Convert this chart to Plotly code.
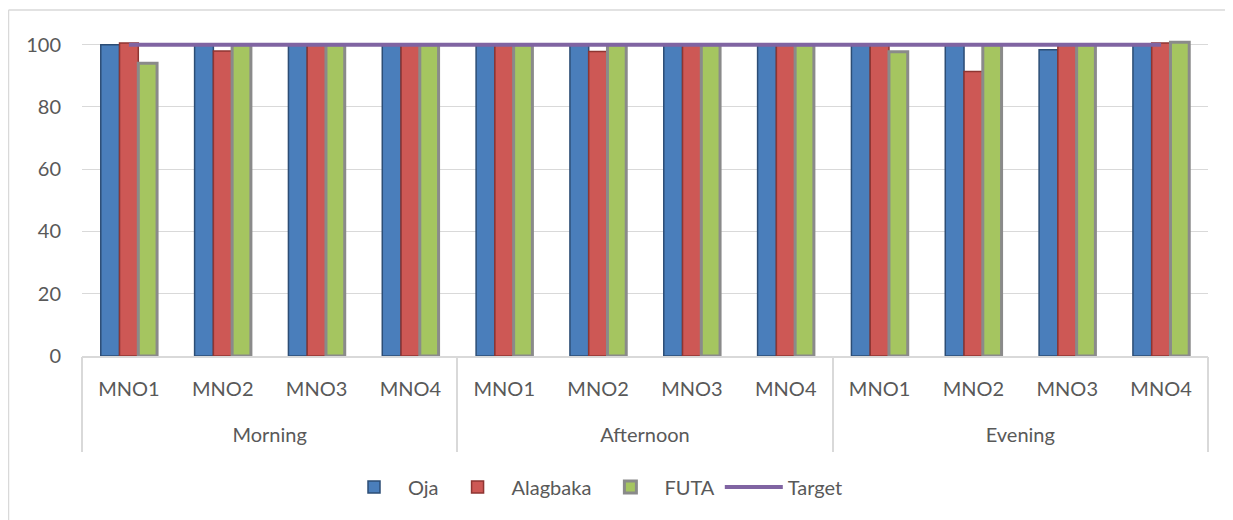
import plotly.graph_objects as go

groups = ["Morning"] * 4 + ["Afternoon"] * 4 + ["Evening"] * 4
mnos = ["MNO1", "MNO2", "MNO3", "MNO4"] * 3
group_names = ["Morning", "Afternoon", "Evening"]
oja = [100, 100, 100, 100, 100, 100, 100, 100, 100, 100, 98.4, 100]
alagbaka = [100.5, 98, 100, 100, 100, 97.8, 100, 100, 100, 91.4, 100, 100.5]
futa = [94, 100, 100, 100, 100, 100, 100, 100, 97.7, 100, 100, 100.8]
target = [100] * 12
y_ticks = [0, 20, 40, 60, 80, 100]

x = [f"{g}|{m}" for g, m in zip(groups, mnos)]
FONT = "Lato"
TXT = "#595959"
GRID = "#D9D9D9"
W, H = 1225, 512
L, R, T, B = 74, 25, 32, 164
PW, PH = W - L - R, H - T - B

fig = go.Figure()
fig.add_trace(go.Bar(name="Oja", x=x, y=oja,
                     marker=dict(color="#4A7EBB", line=dict(color="#2C4D75", width=1.5))))
fig.add_trace(go.Bar(name="Alagbaka", x=x, y=alagbaka,
                     marker=dict(color="#CD5855", line=dict(color="#8E3532", width=1.5))))
fig.add_trace(go.Bar(name="FUTA", x=x, y=futa,
                     marker=dict(color="#A5C560", line=dict(color="#8A8A8A", width=3))))
fig.add_trace(go.Scatter(name="Target", x=x, y=target, mode="lines",
                         line=dict(color="#8064A2", width=4)))
# invisible helper trace that carries the group categories on the second x axis
fig.add_trace(go.Scatter(x=group_names, y=[None] * 3, xaxis="x2", yaxis="y",
                         mode="markers", showlegend=False, hoverinfo="skip"))

fig.update_layout(
    width=W, height=H,
    margin=dict(l=L, r=R, t=T, b=B),
    plot_bgcolor="white", paper_bgcolor="white",
    barmode="group", bargap=0.4, bargroupgap=0,
    font=dict(family=FONT, size=20, color=TXT),
    showlegend=True,
    legend=dict(orientation="h", x=(594 - 82) / 1126, xanchor="center",
                y=(348 - 479) / PH, yanchor="middle",
                font=dict(family=FONT, size=20, color=TXT), traceorder="normal",
                itemwidth=58),
    xaxis=dict(type="category", tickvals=x, ticktext=mnos, showline=True,
               linecolor=GRID, linewidth=1.5, showgrid=False, ticks="",
               ticklabelstandoff=14, tickfont=dict(family=FONT, size=20, color=TXT)),
    xaxis2=dict(type="category", overlaying="x", anchor="y", side="bottom",
                categoryorder="array", categoryarray=group_names, range=[-0.5, 2.5],
                showline=False, showgrid=False, ticks="outside", tickson="boundaries",
                ticklen=95, tickwidth=1.5, tickcolor=GRID, ticklabelstandoff=65,
                tickfont=dict(family=FONT, size=20, color=TXT)),
    yaxis=dict(range=[0, 101.5], tickvals=y_ticks, showgrid=True, gridcolor=GRID,
               gridwidth=1, zeroline=False, showline=False, ticks="",
               ticklabelstandoff=20, tickfont=dict(family=FONT, size=20, color=TXT)),
    shapes=[
        dict(type="line", xref="paper", yref="paper",
             x0=(0.5 - L) / PW, x1=(0.5 - L) / PW, y0=(H - B - 2) / PH, y1=-1,
             line=dict(color=GRID, width=1.5)),
        dict(type="line", xref="paper", yref="paper",
             x0=(0.5 - L) / PW, x1=1.1, y0=(H - B - 2) / PH, y1=(H - B - 2) / PH,
             line=dict(color=GRID, width=1.5)),
    ],
)

fig.write_html("out.html")
